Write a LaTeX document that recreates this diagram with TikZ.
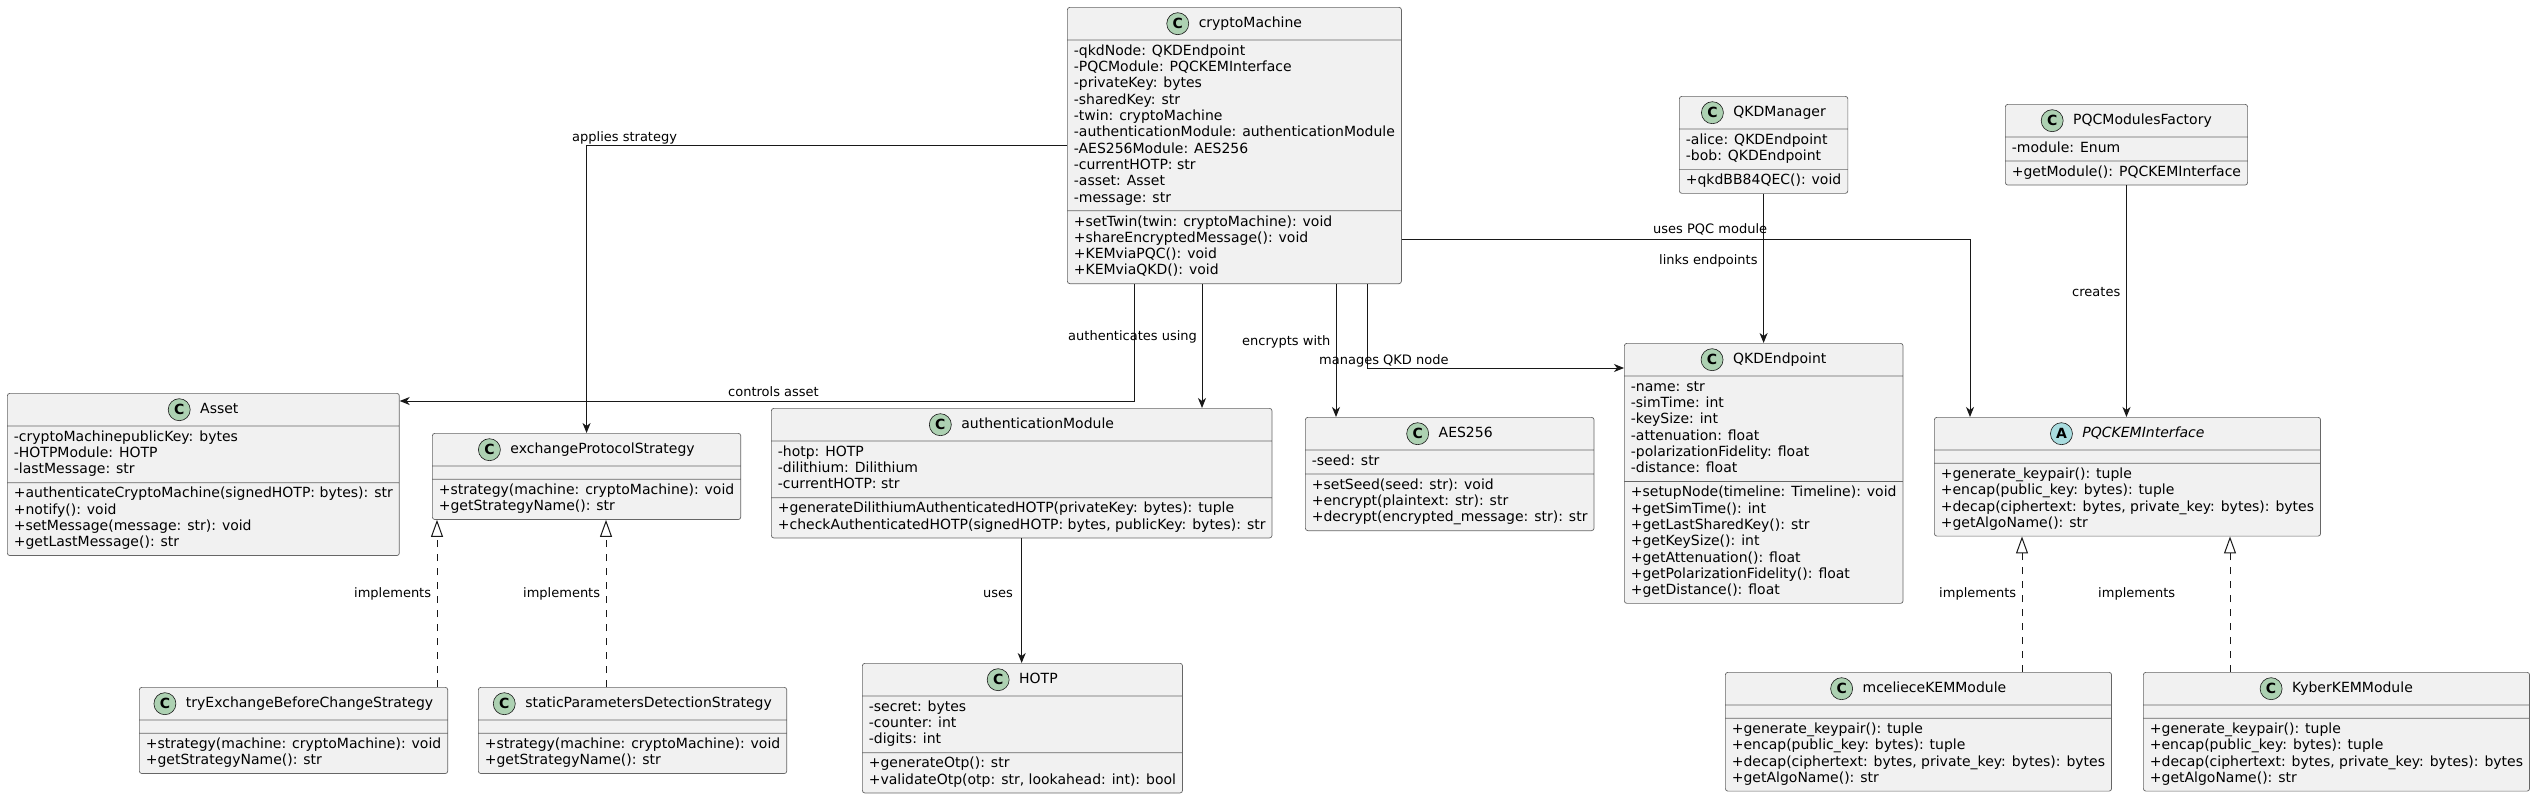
\documentclass[tikz,border=0pt]{standalone}
\usepackage{fontspec}
\setmainfont{DejaVu Sans}
\usetikzlibrary{shapes.multipart,arrows.meta,calc}
\definecolor{boxfill}{HTML}{F1F1F1}
\definecolor{boxline}{HTML}{181818}
\definecolor{cgreen}{HTML}{ADD1B2}
\definecolor{cblue}{HTML}{A9DCDF}
\newcommand{\members}[1]{\begin{tabular}{@{}l@{}}#1\end{tabular}}
\newcommand{\chead}[1]{\rule[-8.8pt]{0pt}{25pt}\hspace{32pt}#1}

\begin{document}
\begin{tikzpicture}[x=1pt,y=-1pt,
    umlclass/.style={rectangle split,rectangle split parts=3,anchor=north west,
      draw=black!60,line width=0.7pt,fill=boxfill,rounded corners=2.5pt,
      inner xsep=6.5pt,inner ysep=3.5pt,
      rectangle split part align={center,left,left},
      rectangle split empty part height=2pt,
      font=\fontsize{14}{16.3}\selectfont},
    icon/.style={circle,draw=boxline,line width=0.6pt,minimum size=22pt,inner sep=0pt,
      font=\bfseries\fontsize{14}{14}\selectfont},
    assoc/.style={draw=boxline,line width=1pt,-{Stealth[length=10pt,width=8pt,inset=3pt]}},
    realize/.style={draw=boxline,line width=1pt,dash pattern=on 7pt off 7pt,
      -{Triangle[open,length=17pt,width=12pt]}},
    lbl/.style={anchor=base west,inner sep=0pt,font=\fontsize{13}{15}\selectfont}]
  \path[use as bounding box,fill=white] (0,0) rectangle (2532,798);

  % classes
  \node[umlclass] (cm) at (1067,7) {\chead{cryptoMachine}
    \nodepart{two}\members{-qkdNode: QKDEndpoint\\-PQCModule: PQCKEMInterface\\-privateKey: bytes\\
      -sharedKey: str\\-twin: cryptoMachine\\-authenticationModule: authenticationModule\\
      -AES256Module: AES256\\-currentHOTP: str\\-asset: Asset\\-message: str}
    \nodepart{three}\members{+setTwin(twin: cryptoMachine): void\\+shareEncryptedMessage(): void\\
      +KEMviaPQC(): void\\+KEMviaQKD(): void}};
  \node[umlclass] (as) at (7,393) {\chead{Asset}
    \nodepart{two}\members{-cryptoMachinepublicKey: bytes\\-HOTPModule: HOTP\\-lastMessage: str}
    \nodepart{three}\members{+authenticateCryptoMachine(signedHOTP: bytes): str\\+notify(): void\\
      +setMessage(message: str): void\\+getLastMessage(): str}};
  \node[umlclass] (ep) at (432,433) {\chead{exchangeProtocolStrategy}
    \nodepart{two}
    \nodepart{three}\members{+strategy(machine: cryptoMachine): void\\+getStrategyName(): str}};
  \node[umlclass] (am) at (771,408) {\chead{authenticationModule}
    \nodepart{two}\members{-hotp: HOTP\\-dilithium: Dilithium\\-currentHOTP: str}
    \nodepart{three}\members{+generateDilithiumAuthenticatedHOTP(privateKey: bytes): tuple\\
      +checkAuthenticatedHOTP(signedHOTP: bytes, publicKey: bytes): str}};
  \node[umlclass] (aes) at (1305,417) {\chead{AES256}
    \nodepart{two}\members{-seed: str}
    \nodepart{three}\members{+setSeed(seed: str): void\\+encrypt(plaintext: str): str\\
      +decrypt(encrypted\_message: str): str}};
  \node[umlclass] (qe) at (1624,343) {\chead{QKDEndpoint}
    \nodepart{two}\members{-name: str\\-simTime: int\\-keySize: int\\-attenuation: float\\
      -polarizationFidelity: float\\-distance: float}
    \nodepart{three}\members{+setupNode(timeline: Timeline): void\\+getSimTime(): int\\
      +getLastSharedKey(): str\\+getKeySize(): int\\+getAttenuation(): float\\
      +getPolarizationFidelity(): float\\+getDistance(): float}};
  \node[umlclass] (qm) at (1679,96) {\chead{QKDManager}
    \nodepart{two}\members{-alice: QKDEndpoint\\-bob: QKDEndpoint}
    \nodepart{three}\members{+qkdBB84QEC(): void}};
  \node[umlclass] (pf) at (2005,104) {\chead{PQCModulesFactory}
    \nodepart{two}\members{-module: Enum}
    \nodepart{three}\members{+getModule(): PQCKEMInterface}};
  \node[umlclass] (pk) at (1934,417) {\chead{\itshape PQCKEMInterface}
    \nodepart{two}
    \nodepart{three}\members{+generate\_keypair(): tuple\\+encap(public\_key: bytes): tuple\\
      +decap(ciphertext: bytes, private\_key: bytes): bytes\\+getAlgoName(): str}};
  \node[umlclass] (te) at (139,687) {\chead{tryExchangeBeforeChangeStrategy}
    \nodepart{two}
    \nodepart{three}\members{+strategy(machine: cryptoMachine): void\\+getStrategyName(): str}};
  \node[umlclass] (st) at (478,687) {\chead{staticParametersDetectionStrategy}
    \nodepart{two}
    \nodepart{three}\members{+strategy(machine: cryptoMachine): void\\+getStrategyName(): str}};
  \node[umlclass] (ho) at (862,663) {\chead{HOTP}
    \nodepart{two}\members{-secret: bytes\\-counter: int\\-digits: int}
    \nodepart{three}\members{+generateOtp(): str\\+validateOtp(otp: str, lookahead: int): bool}};
  \node[umlclass] (mc) at (1725,672) {\chead{mcelieceKEMModule}
    \nodepart{two}
    \nodepart{three}\members{+generate\_keypair(): tuple\\+encap(public\_key: bytes): tuple\\
      +decap(ciphertext: bytes, private\_key: bytes): bytes\\+getAlgoName(): str}};
  \node[umlclass] (ky) at (2143,672) {\chead{KyberKEMModule}
    \nodepart{two}
    \nodepart{three}\members{+generate\_keypair(): tuple\\+encap(public\_key: bytes): tuple\\
      +decap(ciphertext: bytes, private\_key: bytes): bytes\\+getAlgoName(): str}};

  % class icons
  \foreach \n in {cm,as,ep,am,aes,qe,qm,pf,te,st,ho,mc,ky}
    \node[icon,fill=cgreen] (\n-icon) at ($(\n.text)+(11,-3.7)$) {C};
  \node[icon,fill=cblue] (pk-icon) at ($(pk.text)+(11,-3.7)$) {A};

  % associations
  \draw[assoc] (cm.west) -| (ep.north);
  \draw[assoc] ($(cm.south west)+(67,0)$) |- ($(as.north east)+(0,8)$);
  \coordinate (cm-am) at ($(cm.south west)+(135,0)$);
  \draw[assoc] (cm-am) -- (cm-am |- am.north);
  \coordinate (cm-aes) at ($(cm.south west)+(269,0)$);
  \draw[assoc] (cm-aes) -- (cm-aes |- aes.north);
  \draw[assoc] ($(cm.south west)+(300,0)$) |- ($(qe.north west)+(0,25)$);
  \draw[assoc] ($(cm.south east)+(0,-45)$) -| ($(pk.north west)+(36,0)$);
  \draw[assoc] (qm.south) -- (qm.south |- qe.north);
  \draw[assoc] (pf.south) -- (pf.south |- pk.north);
  \draw[assoc] (am.south) -- (am.south |- ho.north);

  % realizations
  \coordinate (ep-te) at ($(ep.south west)+(5,0)$);
  \coordinate (ep-st) at ($(ep.south west)+(174,0)$);
  \coordinate (pk-mc) at ($(pk.south west)+(88,0)$);
  \coordinate (pk-ky) at ($(pk.south west)+(296,0)$);
  \draw[realize] (ep-te |- te.north) -- (ep-te);
  \draw[realize] (ep-st |- st.north) -- (ep-st);
  \draw[realize] (pk-mc |- mc.north) -- (pk-mc);
  \draw[realize] (pk-ky |- ky.north) -- (pk-ky);

  % labels
  \node[lbl] (l-apply) at (572,141) {applies strategy};
  \node[lbl] (l-asset) at (728,396) {controls asset};
  \node[lbl] (l-auth) at (1068,340) {authenticates using};
  \node[lbl] (l-aes) at (1242,345) {encrypts with};
  \node[lbl] (l-qkd) at (1319,364) {manages QKD node};
  \node[lbl] (l-pqc) at (1653,233) {uses PQC module};
  \node[lbl] (l-links) at (1659,264) {links endpoints};
  \node[lbl] (l-creates) at (2072,296) {creates};
  \node[lbl] (l-uses) at (983,597) {uses};
  \node[lbl] (l-impl1) at (354,597) {implements};
  \node[lbl] (l-impl2) at (523,597) {implements};
  \node[lbl] (l-impl3) at (1939,597) {implements};
  \node[lbl] (l-impl4) at (2098,597) {implements};
\end{tikzpicture}
\end{document}
